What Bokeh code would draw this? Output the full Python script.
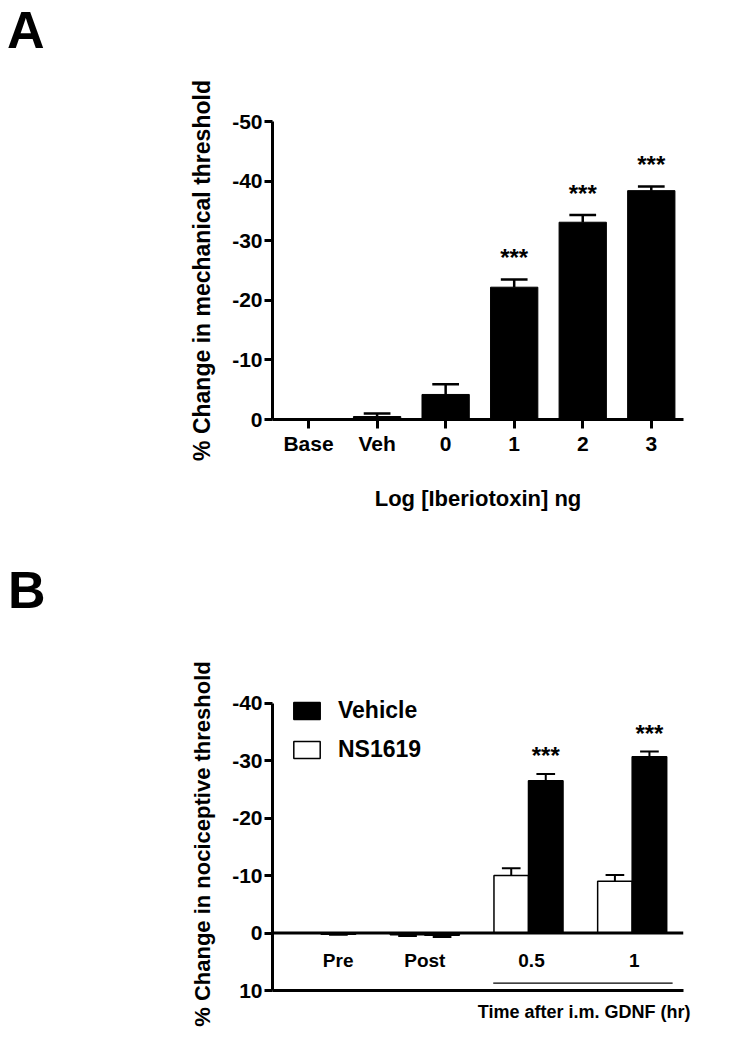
from bokeh.plotting import figure
from bokeh.models import Range1d, FixedTicker, Span, Legend, LegendItem, Title, Div
from bokeh.layouts import column
from bokeh.core.properties import value
from bokeh.embed import file_html
from bokeh.resources import INLINE

FONT = "Liberation Sans"

# ---------------- Panel A data ----------------
a_categories = ["Base", "Veh", "0", "1", "2", "3"]
a_values = [0.0, -0.5, -4.2, -22.2, -33.1, -38.4]
a_errors = [0.0, 0.5, 1.7, 1.3, 1.2, 0.7]
a_signif = ["", "", "", "***", "***", "***"]
a_yticks = [0, -10, -20, -30, -40, -50]
a_ytick_labels = ["0", "-10", "-20", "-30", "-40", "-50"]

# ---------------- Panel B data ----------------
b_categories = ["Pre", "Post", "0.5", "1"]
b_vehicle = [0.2, 0.4, -26.5, -30.7]
b_vehicle_err = [0.1, 0.3, 1.2, 0.9]
b_ns1619 = [0.0, 0.3, -10.0, -9.0]
b_ns1619_err = [0.0, 0.2, 1.3, 1.1]
b_signif = ["", "", "***", "***"]
b_yticks = [10, 0, -10, -20, -30, -40]
b_ytick_labels = ["10", "0", "-10", "-20", "-30", "-40"]

W = 730


def err_end(v, e):
    return v - e if v <= 0 else v + e


def style_axis(ax, font_size="21px"):
    ax.axis_line_width = 3
    ax.axis_line_color = "black"
    ax.major_tick_line_width = 3
    ax.major_tick_line_color = "black"
    ax.minor_tick_line_color = None
    ax.major_tick_in = 0
    ax.major_label_text_font = FONT
    ax.major_label_text_font_style = "bold"
    ax.major_label_text_font_size = font_size
    ax.major_label_text_color = "black"
    ax.axis_label_text_font = FONT
    ax.axis_label_text_font_style = "bold"
    ax.axis_label_text_color = "black"


def draw_errors(p, xs, vals, errs, half_cap, lw=2.5):
    x0, y0, y1, c0, c1 = [], [], [], [], []
    for x, v, e in zip(xs, vals, errs):
        if e <= 0:
            continue
        end = err_end(v, e)
        x0.append(x)
        y0.append(v)
        y1.append(end)
        c0.append(x - half_cap)
        c1.append(x + half_cap)
    p.segment(x0=x0, y0=y0, x1=x0, y1=y1, line_color="black", line_width=lw)
    p.segment(x0=c0, y0=y1, x1=c1, y1=y1, line_color="black", line_width=lw)


def letter_div(letter, height, left_pad, top_pad):
    html = ('<div style="font-family:\'%s\',Arial,sans-serif;font-weight:bold;'
            'font-size:52px;line-height:normal;color:black;padding-left:%dpx;'
            'padding-top:%dpx;margin:0;">%s</div>' % (FONT, left_pad, top_pad, letter))
    return Div(text=html, width=W, height=height, margin=0)


# ================= Panel A =================
da = letter_div("A", 55, 7, 0)

a_x = list(range(len(a_categories)))
pa = figure(width=W, height=505,
            x_range=Range1d(-0.526, 5.47), y_range=Range1d(0, -50),
            output_backend="svg", toolbar_location=None,
            min_border_left=269, min_border_right=28,
            min_border_top=66, min_border_bottom=141)
pa.outline_line_color = None
pa.grid.visible = False

pa.vbar(x=a_x, top=a_values, bottom=0, width=0.69,
        fill_color="black", line_color="black", line_width=1)
draw_errors(pa, a_x, a_values, a_errors, 0.195)

a_star_y = [err_end(v, e) for v, e in zip(a_values, a_errors)]
pa.text(x=a_x, y=a_star_y, text=a_signif, text_align="center",
        text_baseline="alphabetic", y_offset=-22,
        text_font=value(FONT), text_font_style="bold", text_font_size="24px",
        text_color="black")

style_axis(pa.xaxis[0])
style_axis(pa.yaxis[0])
pa.xaxis.ticker = FixedTicker(ticks=a_x)
pa.xaxis.major_label_overrides = {i: c for i, c in zip(a_x, a_categories)}
pa.xaxis.major_tick_out = 9
pa.xaxis.major_label_standoff = 3
pa.xaxis.axis_label = "Log [Iberiotoxin] ng"
pa.xaxis.axis_label_text_font_size = "22px"
pa.xaxis.axis_label_standoff = 28

pa.yaxis.ticker = FixedTicker(ticks=a_yticks)
pa.yaxis.major_label_overrides = {t: s for t, s in zip(a_yticks, a_ytick_labels)}
pa.yaxis.major_tick_out = 8
pa.yaxis.major_label_standoff = 2
pa.yaxis.axis_label = "% Change in mechanical threshold"
pa.yaxis.axis_label_text_font_size = "23px"
pa.yaxis.axis_label_standoff = 14

# ================= Panel B =================
db = letter_div("B", 60, 8, 0)

b_x = list(range(len(b_categories)))
bw = 0.333
pb = figure(width=W, height=421,
            x_range=Range1d(-0.469, 3.495), y_range=Range1d(10, -41),
            output_backend="svg", toolbar_location=None,
            min_border_left=272, min_border_right=47,
            min_border_top=77, min_border_bottom=51)
pb.outline_line_color = None
pb.grid.visible = False

xw = [x - bw / 2 for x in b_x]
xk = [x + bw / 2 for x in b_x]
r_ns = pb.vbar(x=xw, top=b_ns1619, bottom=0, width=bw,
               fill_color="white", line_color="black", line_width=1.5)
r_veh = pb.vbar(x=xk, top=b_vehicle, bottom=0, width=bw,
                fill_color="black", line_color="black", line_width=1.5)
draw_errors(pb, xw, b_ns1619, b_ns1619_err, 0.09, lw=2)
draw_errors(pb, xk, b_vehicle, b_vehicle_err, 0.09, lw=2)

pb.add_layout(Span(location=0, dimension="width", line_color="black", line_width=3))

b_star_y = [err_end(v, e) for v, e in zip(b_vehicle, b_vehicle_err)]
pb.text(x=xk, y=b_star_y, text=b_signif, text_align="center",
        text_baseline="alphabetic", y_offset=-18,
        text_font=value(FONT), text_font_style="bold", text_font_size="24px",
        text_color="black")

# category labels between the zero line and the bottom axis
pb.text(x=b_x, y=[4.7] * len(b_x), text=b_categories, text_align="center",
        text_baseline="middle", x_offset=[17, 0, 3, 2],
        text_font=value(FONT), text_font_style="bold", text_font_size="19px",
        text_color="black")

pb.line(x=[b_x[2] - 0.34, b_x[3] + 0.39], y=[8.7, 8.7], line_color="black", line_width=1.2)

style_axis(pb.xaxis[0])
style_axis(pb.yaxis[0])
pb.xaxis.ticker = FixedTicker(ticks=[])
pb.xaxis.major_tick_out = 0
pb.xaxis.major_label_standoff = 0
pb.xaxis.major_label_text_font_size = "0px"

pb.yaxis.ticker = FixedTicker(ticks=b_yticks)
pb.yaxis.bounds = (-40, 10)
pb.yaxis.major_label_overrides = {t: s for t, s in zip(b_yticks, b_ytick_labels)}
pb.yaxis.major_tick_out = 8
pb.yaxis.major_label_standoff = 2
pb.yaxis.axis_label = "% Change in nociceptive threshold"
pb.yaxis.axis_label_text_font_size = "22px"
pb.yaxis.axis_label_standoff = 14

pb.add_layout(Title(text="Time after i.m. GDNF (hr)", align="right", offset=-7,
                    vertical_align="top", standoff=23,
                    text_font=FONT, text_font_style="bold", text_font_size="18px",
                    text_color="black"), "below")

legend = Legend(items=[LegendItem(label="Vehicle", renderers=[r_veh]),
                       LegendItem(label="NS1619", renderers=[r_ns])],
                location=(18, 227), orientation="vertical",
                glyph_width=33, glyph_height=21, label_height=21,
                label_standoff=15, spacing=12, padding=0, margin=0,
                label_text_font=FONT, label_text_font_style="bold",
                label_text_font_size="23px", label_text_color="black",
                border_line_color=None, background_fill_alpha=0)
pb.add_layout(legend)

layout = column(da, pa, db, pb, spacing=0)
open("out.html", "w").write(file_html(layout, INLINE))
